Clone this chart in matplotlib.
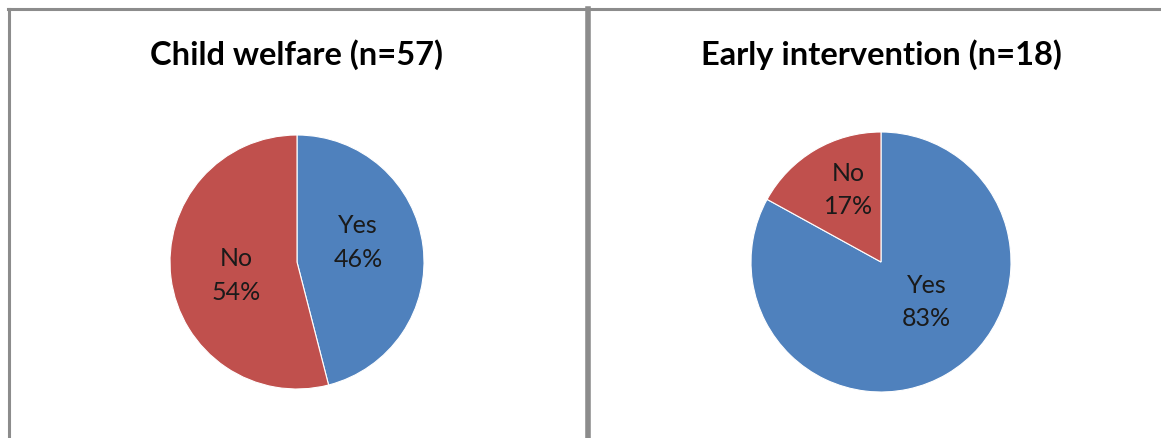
import matplotlib; matplotlib.use('Agg')
import matplotlib.pyplot as plt
from matplotlib.lines import Line2D

plt.rcParams['font.family'] = ['Lato', 'DejaVu Sans']

# data
titles = ['Child welfare (n=57)', 'Early intervention (n=18)']
categories = ['Yes', 'No']
shares = [[46, 54], [83, 17]]
# label spots (pie radius units)
label_xy = [[(0.48, 0.16), (-0.48, -0.10)], [(0.35, -0.30), (-0.25, 0.56)]]

colors = ['#4F81BD', '#C0504D']
W, H = 1161, 439
fig = plt.figure(figsize=(W/100, H/100), dpi=100)

# pie centres / radii in pixels
centres = [(297, 263, 127), (881, 263, 130)]
for i in range(2):
    cx, cy, r = centres[i]
    ax = fig.add_axes([(cx-r)/W, (H-cy-r)/H, 2*r/W, 2*r/H])
    ax.pie(shares[i], colors=colors, startangle=90, counterclock=False,
           wedgeprops=dict(edgecolor='white', linewidth=0.8))
    ax.set_xlim(-1, 1); ax.set_ylim(-1, 1)
    ax.set_aspect('equal'); ax.axis('off')
    for lab, v, (lx, ly) in zip(categories, shares[i], label_xy[i]):
        ax.text(lx, ly, f'{lab}\n{v}%', ha='center', va='center',
                fontsize=18, color='#1a1a1a', linespacing=1.55)
    fig.text(cx/W, 1-55/H, titles[i], ha='center', va='center',
             fontsize=23.5, fontweight='bold', color='black')

# panel borders
gray = '#8C8C8C'
def line(x0, y0, x1, y1, lw=2.2):
    fig.add_artist(Line2D([x0/W, x1/W], [1-y0/H, 1-y1/H], color=gray, lw=lw))
line(8, 10, W, 10)
line(8.5, 10, 8.5, H)
line(588.5, 10, 588.5, H, lw=4)

plt.savefig('out.png', dpi=100)
plt.close()
